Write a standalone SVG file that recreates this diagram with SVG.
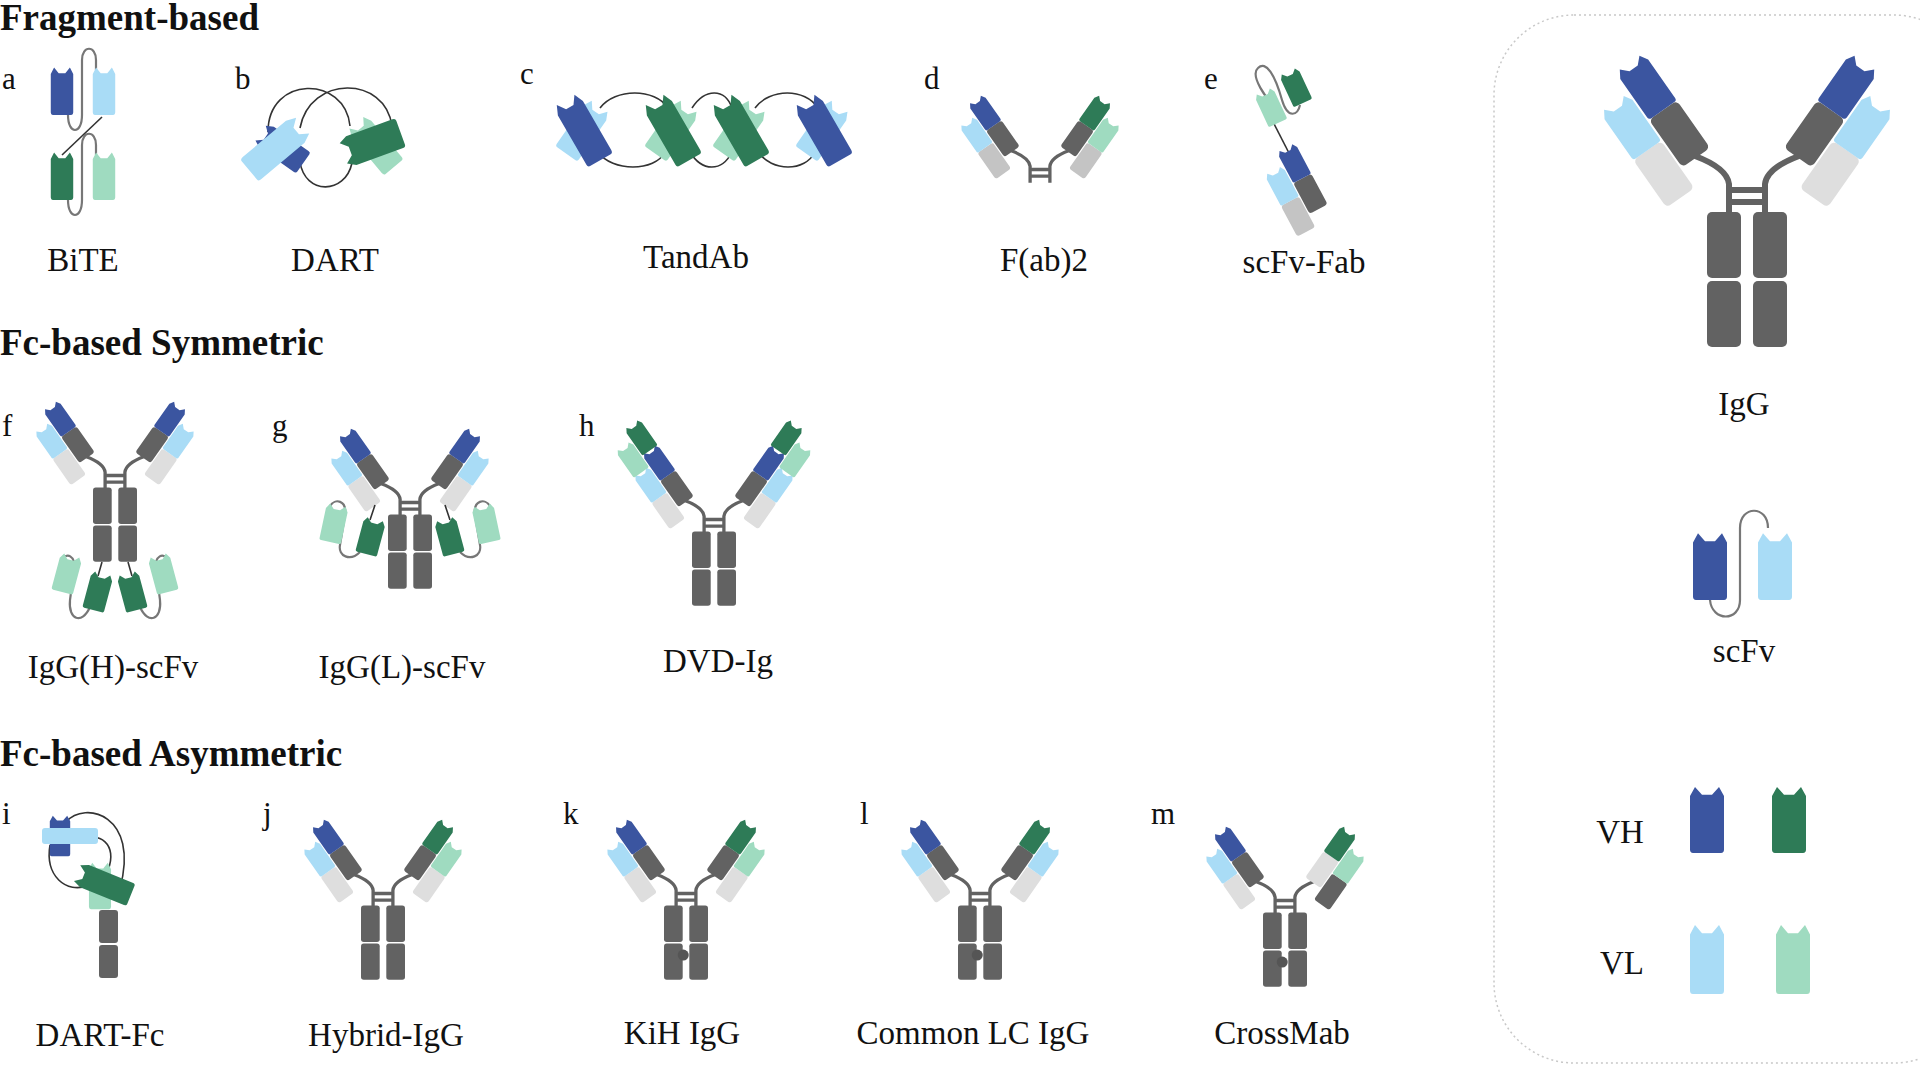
<svg xmlns="http://www.w3.org/2000/svg" xmlns:xlink="http://www.w3.org/1999/xlink" width="1920" height="1068" viewBox="0 0 1920 1068">
<style>
text{font-family:"Liberation Serif","Times New Roman",serif;fill:#111}
.h{font-size:37px;font-weight:bold}
.l{font-size:33px}
.lt{font-size:31px}
.vhb{fill:#3b55a0}.vlb{fill:#a9dcf6}.vhg{fill:#2e7b57}.vlg{fill:#9fdbc0}.gr{fill:#626262}.lg{fill:#dedede}
.ln{fill:none;stroke:#333;stroke-width:1.6}
.lnl{fill:none;stroke:#777;stroke-width:2.2}
.hg{fill:none;stroke:#626262;stroke-width:6}
</style>
<defs>
<path id="vd" d="M-17,0 V-50 L-12,-58 L-5,-51 L5,-51 L12,-58 L17,-50 V-3 Q17,0 14,0 H-14 Q-17,0 -17,-3 Z"/>
<path id="vc" d="M-17,29 V-21 L-12,-29 L-5,-22 L5,-22 L12,-29 L17,-21 V26 Q17,29 14,29 H-14 Q-17,29 -17,26 Z"/>
<g id="arm">
<rect x="-17" y="-56" width="34" height="58" rx="5" style="fill:var(--ch,#626262)"/>
<use href="#vd" transform="translate(0,-56)" style="fill:var(--vh)"/>
<use href="#vd" transform="translate(0,-112)" style="fill:var(--vh2,none)"/>
<rect x="-53" y="-32" width="34" height="58" rx="5" style="fill:var(--cl,#dedede)"/>
<use href="#vd" transform="translate(-36,-32)" style="fill:var(--vl)"/>
<use href="#vd" transform="translate(-36,-88)" style="fill:var(--vl2,none)"/>
</g>
<g id="fab">
<path class="hg" d="M-52,-24 Q-20,-12 -18,4 V34 M52,-24 Q20,-12 18,4 V34"/>
<path class="hg" d="M-18,10 H18 M-18,22 H18" stroke-width="5"/>
<use href="#arm" transform="translate(-52,-24) rotate(-35)" style="--vh:var(--vhL);--vl:var(--vlL);--ch:var(--chL,#626262);--cl:var(--clL,#dedede);--vh2:var(--vh2L,none);--vl2:var(--vl2L,none)"/>
<g transform="scale(-1,1)"><use href="#arm" transform="translate(-52,-24) rotate(-35)" style="--vh:var(--vhR);--vl:var(--vlR);--ch:var(--chR,#626262);--cl:var(--clR,#dedede);--vh2:var(--vh2R,none);--vl2:var(--vl2R,none)"/></g>
</g>
<g id="igg">
<use href="#fab"/>
<rect class="gr" x="-40" y="32" width="34" height="66" rx="5"/>
<rect class="gr" x="6" y="32" width="34" height="66" rx="5"/>
<rect class="gr" x="-40" y="101" width="34" height="66" rx="5"/>
<rect class="gr" x="6" y="101" width="34" height="66" rx="5"/>
</g>
<circle id="knob" cx="-5" cy="122" r="10" fill="#555"/>
</defs>

<rect x="1494" y="15" width="480" height="1048" rx="80" fill="none" stroke="#c8c8c8" stroke-width="1.5" stroke-dasharray="2 3"/>

<text class="h" x="0" y="30">Fragment-based</text>
<text class="h" x="0" y="355">Fc-based Symmetric</text>
<text class="h" x="0" y="766">Fc-based Asymmetric</text>

<g class="lt">
<text x="2" y="89">a</text><text x="235" y="89">b</text><text x="520" y="84">c</text><text x="924" y="89">d</text><text x="1204" y="89">e</text>
<text x="2" y="436">f</text><text x="272" y="436">g</text><text x="579" y="436">h</text>
<text x="2" y="824">i</text><text x="263" y="824">j</text><text x="563" y="824">k</text><text x="860" y="824">l</text><text x="1151" y="824">m</text>
</g>
<g class="l" text-anchor="middle">
<text x="83" y="271">BiTE</text><text x="335" y="271">DART</text><text x="696" y="268">TandAb</text><text x="1044" y="271">F(ab)2</text><text x="1304" y="273">scFv-Fab</text>
<text x="113" y="678">IgG(H)-scFv</text><text x="402" y="678">IgG(L)-scFv</text><text x="718" y="672">DVD-Ig</text>
<text x="100" y="1046">DART-Fc</text><text x="386" y="1046">Hybrid-IgG</text><text x="682" y="1044">KiH IgG</text><text x="973" y="1044">Common LC IgG</text><text x="1282" y="1044">CrossMab</text>
<text x="1744" y="415">IgG</text><text x="1744" y="662">scFv</text><text x="1620" y="843">VH</text><text x="1622" y="974">VL</text>
</g>

<g id="node-bite">
<path class="lnl" d="M68,115 C68,135 82,135 82,115 V60 C82,45 96,45 96,60 V70"/>
<path class="lnl" d="M68,200 C68,220 82,220 82,200 V145 C82,130 96,130 96,145 V155"/>
<path class="ln" d="M102,117 L62,155"/>
<use href="#vd" class="vhb" transform="translate(62,115) scale(0.66,0.82)"/>
<use href="#vd" class="vlb" transform="translate(104,115) scale(0.66,0.82)"/>
<use href="#vd" class="vhg" transform="translate(62,200) scale(0.66,0.82)"/>
<use href="#vd" class="vlg" transform="translate(104,200) scale(0.66,0.82)"/>
</g>

<g id="node-dart">
<path class="ln" d="M268,132 C268,75 345,75 350,126 M300,128 C310,75 385,75 392,126 M300,162 C305,195 345,195 352,163"/>
<use href="#vc" class="vhb" transform="translate(282,148) rotate(-55) scale(0.75,0.9)"/>
<use href="#vc" class="vlb" transform="translate(276,148) rotate(50) scale(0.85,1.2)"/>
<use href="#vc" class="vlg" transform="translate(375,145) rotate(-40) scale(0.75,1)"/>
<use href="#vc" class="vhg" transform="translate(372,143) rotate(-110) scale(0.9,1.05)"/>
</g>

<g id="node-tandab">
<path class="ln" d="M600,108 C615,88 655,88 668,108 M692,108 C705,88 725,88 732,108 M755,108 C770,88 805,88 818,108"/>
<path class="ln" d="M598,152 C612,172 655,172 665,152 M690,152 C702,172 722,172 732,152 M758,152 C772,172 805,172 815,152"/>
<g transform="translate(583,130)"><use href="#vc" class="vlb" transform="rotate(35) scale(0.8,1)"/><use href="#vc" class="vhb" transform="rotate(-30) scale(0.85,1.2)"/></g>
<g transform="translate(672,130)"><use href="#vc" class="vlg" transform="rotate(35) scale(0.8,1)"/><use href="#vc" class="vhg" transform="rotate(-30) scale(0.85,1.2)"/></g>
<g transform="translate(740,130)"><use href="#vc" class="vlg" transform="rotate(35) scale(0.8,1)"/><use href="#vc" class="vhg" transform="rotate(-30) scale(0.85,1.2)"/></g>
<g transform="translate(823,130)"><use href="#vc" class="vlb" transform="rotate(35) scale(0.8,1)"/><use href="#vc" class="vhb" transform="rotate(-30) scale(0.85,1.2)"/></g>
</g>

<use id="node-fab2" href="#fab" transform="translate(1040,164) scale(0.55)" style="--vhL:#3b55a0;--vlL:#a9dcf6;--vhR:#2e7b57;--vlR:#9fdbc0;--clL:#c4c4c4;--clR:#c4c4c4"/>

<g id="node-scfvfab">
<path class="lnl" d="M1280,110 C1265,100 1250,75 1258,68 C1266,60 1275,75 1282,100 C1288,120 1298,115 1300,105"/>
<path class="ln" d="M1268,112 L1290,155"/>
<use href="#vd" class="vhg" transform="translate(1303,103) rotate(-25) scale(0.6,0.6)"/>
<use href="#vd" class="vlg" transform="translate(1278,123) rotate(-25) scale(0.6,0.6)"/>
<use href="#arm" transform="translate(1318,208) rotate(-28) scale(0.6)" style="--vh:#3b55a0;--vl:#a9dcf6;--cl:#c4c4c4"/>
</g>

<g id="node-igg-big">
<use href="#igg" transform="translate(1747,180)" style="--vhL:#3b55a0;--vlL:#a9dcf6;--vhR:#3b55a0;--vlR:#a9dcf6"/>
</g>

<g id="node-scfv">
<path class="lnl" d="M1710,600 C1712,622 1740,622 1740,600 V528 C1740,505 1768,505 1768,528"/>
<use href="#vd" class="vhb" transform="translate(1710,600) scale(1,1.15)"/>
<use href="#vd" class="vlb" transform="translate(1775,600) scale(1,1.15)"/>
</g>

<g id="legend">
<use href="#vd" class="vhb" transform="translate(1707,853) scale(1,1.14)"/>
<use href="#vd" class="vhg" transform="translate(1789,853) scale(1,1.14)"/>
<use href="#vd" class="vlb" transform="translate(1707,994) scale(1,1.19)"/>
<use href="#vd" class="vlg" transform="translate(1793,994) scale(1,1.19)"/>
</g>

<g id="node-igghscfv">
<use href="#igg" transform="translate(115,470) scale(0.55)" style="--vhL:#3b55a0;--vlL:#a9dcf6;--vhR:#3b55a0;--vlR:#a9dcf6"/>
<path class="ln" d="M102,562 L98,576 M128,562 L132,576"/>
<path class="lnl" d="M90,607 C82,625 68,620 70,600 L74,570 C76,555 66,552 62,560"/>
<path class="lnl" d="M140,607 C148,625 162,620 160,600 L156,570 C154,555 164,552 168,560"/>
<use href="#vd" class="vlg" transform="translate(62,592) rotate(15) scale(0.65,0.65)"/>
<use href="#vd" class="vhg" transform="translate(93,610) rotate(15) scale(0.65,0.65)"/>
<use href="#vd" class="vlg" transform="translate(168,592) rotate(-15) scale(0.65,0.65)"/>
<use href="#vd" class="vhg" transform="translate(137,610) rotate(-15) scale(0.65,0.65)"/>
</g>

<g id="node-igglscfv">
<use href="#igg" transform="translate(410,497) scale(0.55)" style="--vhL:#3b55a0;--vlL:#a9dcf6;--vhR:#3b55a0;--vlR:#a9dcf6"/>
<path class="ln" d="M375,505 L370,520 M445,505 L450,520"/>
<path class="lnl" d="M360,552 C350,562 338,556 340,545 L345,515 C347,500 335,498 330,506"/>
<path class="lnl" d="M460,552 C470,562 482,556 480,545 L475,515 C473,500 485,498 490,506"/>
<use href="#vd" class="vlg" transform="translate(330,542) rotate(12) scale(0.65,0.65)"/>
<use href="#vd" class="vhg" transform="translate(366,554) rotate(15) scale(0.65,0.62)"/>
<use href="#vd" class="vlg" transform="translate(490,542) rotate(-12) scale(0.65,0.65)"/>
<use href="#vd" class="vhg" transform="translate(454,554) rotate(-15) scale(0.65,0.62)"/>
</g>

<use id="node-dvd" href="#igg" transform="translate(714,514) scale(0.55)" style="--vhL:#3b55a0;--vlL:#a9dcf6;--vhR:#3b55a0;--vlR:#a9dcf6;--vh2L:#2e7b57;--vl2L:#9fdbc0;--vh2R:#2e7b57;--vl2R:#9fdbc0"/>

<g id="node-dartfc">
<path class="ln" d="M66,822 C85,800 140,815 120,888 M50,845 C45,875 65,895 90,885 M78,840 C100,830 118,845 108,870"/>
<use href="#vc" class="vhb" transform="translate(60,836) scale(0.6,0.7)"/>
<rect class="vlb" x="42" y="828" width="56" height="16" rx="3"/>
<use href="#vc" class="vlg" transform="translate(100,886) scale(0.65,0.8)"/>
<use href="#vc" class="vhg" transform="translate(104,884) rotate(-68) scale(0.7,1)"/>
<rect class="gr" x="99" y="910" width="19" height="33" rx="3"/>
<rect class="gr" x="99" y="945" width="19" height="33" rx="3"/>
</g>

<use id="node-hybrid" href="#igg" transform="translate(383,888) scale(0.55)" style="--vhL:#3b55a0;--vlL:#a9dcf6;--vhR:#2e7b57;--vlR:#9fdbc0"/>
<g id="node-kih">
<use href="#igg" transform="translate(686,888) scale(0.55)" style="--vhL:#3b55a0;--vlL:#a9dcf6;--vhR:#2e7b57;--vlR:#9fdbc0"/>
<use href="#knob" transform="translate(686,888) scale(0.55)"/>
</g>
<g id="node-commonlc">
<use href="#igg" transform="translate(980,888) scale(0.55)" style="--vhL:#3b55a0;--vlL:#a9dcf6;--vhR:#2e7b57;--vlR:#a9dcf6"/>
<use href="#knob" transform="translate(980,888) scale(0.55)"/>
</g>
<g id="node-crossmab">
<use href="#igg" transform="translate(1285,895) scale(0.55)" style="--vhL:#3b55a0;--vlL:#a9dcf6;--vhR:#2e7b57;--vlR:#9fdbc0;--chR:#dedede;--clR:#626262"/>
<use href="#knob" transform="translate(1285,895) scale(0.55)"/>
</g>
</svg>
